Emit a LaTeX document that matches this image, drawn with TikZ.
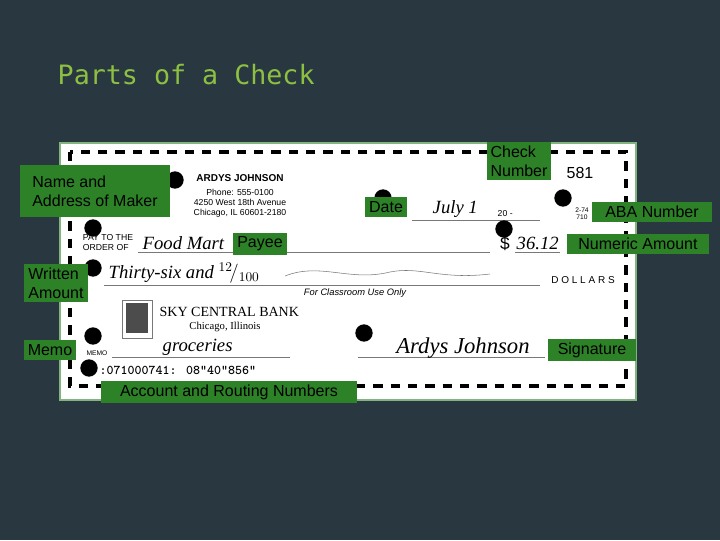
\documentclass[tikz,border=0pt]{standalone}
\usepackage{fontspec}
\setmainfont{Liberation Sans}
\newfontfamily\titlefont{DejaVu Sans Mono}
\newfontfamily\handfont{Liberation Serif}
\usetikzlibrary{positioning}
\definecolor{slidebg}{RGB}{41,56,64}
\definecolor{titlegreen}{RGB}{141,192,66}
\definecolor{tagfill}{RGB}{45,130,40}
\definecolor{checkline}{RGB}{120,120,120}

\tikzset{
  tag/.style={fill=tagfill,text=black,align=left,inner xsep=3pt,inner ysep=3pt,font=\fontsize{12}{14}\selectfont},
  pin/.style={circle,fill=black,inner sep=0pt,minimum size=13pt},
  hand/.style={font=\handfont\itshape\fontsize{14}{16}\selectfont},
  small/.style={font=\fontsize{6.5}{7.5}\selectfont}
}

\begin{document}
\begin{tikzpicture}[x=0.75pt,y=-0.75pt]
\useasboundingbox[fill=slidebg] (0,0) rectangle (720,540);

% Title
\node[anchor=west,text=titlegreen,font=\titlefont\fontsize{20}{24}\selectfont] (title) at (53,75) {Parts of a Check};

% Check body
\draw[fill=white,draw=tagfill!60!white,line width=1pt] (60,143) rectangle (636,400);
\draw[line width=3.5pt,dash pattern=on 7pt off 6pt] (70,152) rectangle (626,386);

% Maker
\node[font=\bfseries\fontsize{7.5}{9}\selectfont] (maker) at (240,178) {ARDYS JOHNSON};
\node[small,align=center,below=-1pt of maker] (addr) {Phone: 555-0100\\4250 West 18th Avenue\\Chicago, IL 60601-2180};
\node[font=\fontsize{12}{14}\selectfont] (num) at (580,173) {581};

% Date line
\draw[checkline] (412,220) coordinate (d1) -- (540,220) coordinate (d2);
\node[hand,anchor=south west] (date) at (428,222) {July 1};
\node[small,anchor=south west] (year) at (493,221) {20 -};
\node[font=\fontsize{5}{6}\selectfont,align=center] (aba) at (582,214) {2-74\\[-1pt]710};

% Payee line
\node[small,align=left] (pay) at (108,243) {PAY TO THE\\ORDER OF};
\draw[checkline] (138,252) coordinate (p1) -- (490,252) coordinate (p2);
\node[hand,anchor=south west] (payee) at (138,254) {Food Mart};
\node[font=\fontsize{13}{15}\selectfont] (dollar) at (505,244) {\$};
\node[hand,anchor=south west] (amount) at (512,254) {36.12};
\draw[checkline] (515,252) -- (560,252);

% Written amount
\draw[checkline] (104,285) coordinate (w1) -- (540,285) coordinate (w2);
\node[hand,anchor=south west] (words) at (104,288) {Thirty-six and $^{12}\!/_{100}$};
\draw[checkline] (285,276) .. controls (320,262) and (350,282) .. (390,272) .. controls (420,266) and (440,280) .. (490,274);
\node[font=\fontsize{7.5}{9}\selectfont] (dollars) at (583,280) {D O L L A R S};
\node[font=\itshape\fontsize{7}{8}\selectfont] (classroom) at (355,293) {For Classroom Use Only};

% Bank
\draw[checkline] (122,300) rectangle (152,338);
\node[fill=black!70,minimum width=16pt,minimum height=22pt,inner sep=0pt] (tree) at (137,318) {};
\node[font=\handfont\fontsize{10.5}{12}\selectfont,anchor=west] (bank) at (155,312) {SKY CENTRAL BANK};
\node[font=\handfont\fontsize{8}{9}\selectfont] (city) at (225,327) {Chicago, Illinois};

% Memo and signature
\node[font=\fontsize{5}{6}\selectfont] (memo) at (97,353) {MEMO};
\draw[checkline] (112,357) -- (290,357);
\node[hand,anchor=south west] (memotext) at (158,360) {groceries};
\draw[checkline] (358,357) -- (545,357);
\node[hand,font=\handfont\itshape\fontsize{17}{19}\selectfont] (sig) at (463,348) {Ardys Johnson};
\node[font=\ttfamily\bfseries\fontsize{10}{12}\selectfont,anchor=west] (micr) at (95,370) {:071000741: 08"40"856"};

% Pins
\foreach \px/\py in {175/180, 383/198, 563/198, 93/228, 504/229, 93/268, 93/336, 364/333, 89/368} {
  \node[pin] at (\px,\py) {};
}

% Labels
\node[tag,minimum width=112pt,minimum height=39pt] (namelbl) at (95,191) {Name and\\Address of Maker};
\node[tag] (checklbl) at (519,161) {Check\\Number};
\node[tag] (datelbl) at (386,207) {Date};
\node[tag,minimum width=90pt] (abalbl) at (652,212) {ABA Number};
\node[tag] (payeelbl) at (260,244) {Payee};
\node[tag,minimum width=107pt] (numlbl) at (638,244) {Numeric Amount};
\node[tag] (writtenlbl) at (56,283) {Written\\Amount};
\node[tag] (memolbl) at (50,350) {Memo};
\node[tag,minimum width=66pt] (siglbl) at (592,350) {Signature};
\node[tag,minimum width=192pt] (acctlbl) at (229,392) {Account and Routing Numbers};
\end{tikzpicture}
\end{document}
